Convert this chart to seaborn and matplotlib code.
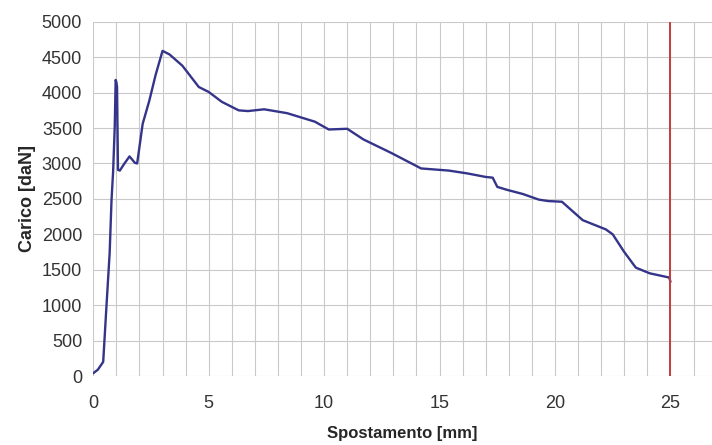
import numpy as np
import pandas as pd
import seaborn as sns
import matplotlib.pyplot as plt

# displacement [mm] and load [daN]
spostamento = [0.0, 0.2, 0.43, 0.57, 0.71, 0.79, 0.86, 0.93, 0.97, 1.0, 1.03, 1.07,
               1.15, 1.35, 1.57, 1.8, 1.9, 2.14, 2.43, 2.7, 3.0, 3.3, 3.86, 4.57,
               5.0, 5.57, 6.3, 6.7, 7.4, 8.4, 9.6, 10.2, 11.0, 11.7, 12.9, 14.2,
               15.4, 16.2, 17.0, 17.3, 17.5, 17.9, 18.6, 19.3, 19.7, 20.3,
               21.2, 22.2, 22.5, 23.0, 23.5, 24.1, 24.95, 25.0]
carico = [40, 90, 200, 980, 1740, 2480, 2890, 3520, 4180, 4150, 4080, 2910,
          2900, 3000, 3100, 3010, 3000, 3560, 3890, 4250, 4590, 4540, 4380, 4080,
          4010, 3870, 3750, 3740, 3765, 3710, 3590, 3480, 3490, 3340, 3150, 2930,
          2900, 2860, 2810, 2800, 2670, 2630, 2570, 2490, 2470, 2460,
          2200, 2070, 2000, 1750, 1530, 1450, 1390, 1330]
x_limite = 25

df = pd.DataFrame({"Spostamento [mm]": spostamento, "Carico [daN]": carico})

sns.set_theme(style="white")
plt.rcParams["font.family"] = ["Liberation Sans", "DejaVu Sans"]

fig = plt.figure(figsize=(7.12, 4.45), dpi=100)
ax = fig.add_axes([0.131, 0.155, 0.869, 0.796])

sns.lineplot(data=df, x="Spostamento [mm]", y="Carico [daN]", sort=False,
             color="#34348a", linewidth=1.7, ax=ax)
ax.axvline(x_limite, color="#c43c3c", linewidth=1.4)

ax.set_xlim(0, 26.8)
ax.set_ylim(0, 5000)
ax.set_xticks(np.arange(0, 26, 5))
ax.set_xticks(np.arange(0, 27, 1), minor=True)
ax.set_yticks(np.arange(0, 5001, 500))
ax.grid(True, which="both", color="#c9c9c9", linewidth=0.8)
ax.set_axisbelow(True)
for s in ax.spines.values():
    s.set_visible(False)
ax.tick_params(axis="both", which="both", length=0, labelsize=13, colors="#333333")
ax.tick_params(axis="x", pad=14)
ax.tick_params(axis="y", pad=8)

ax.set_xlabel("Spostamento [mm]", fontsize=12, fontweight="bold", labelpad=10)
ax.set_ylabel("Carico [daN]", fontsize=13, fontweight="bold", labelpad=4)

fig.savefig("out.png", dpi=100)
